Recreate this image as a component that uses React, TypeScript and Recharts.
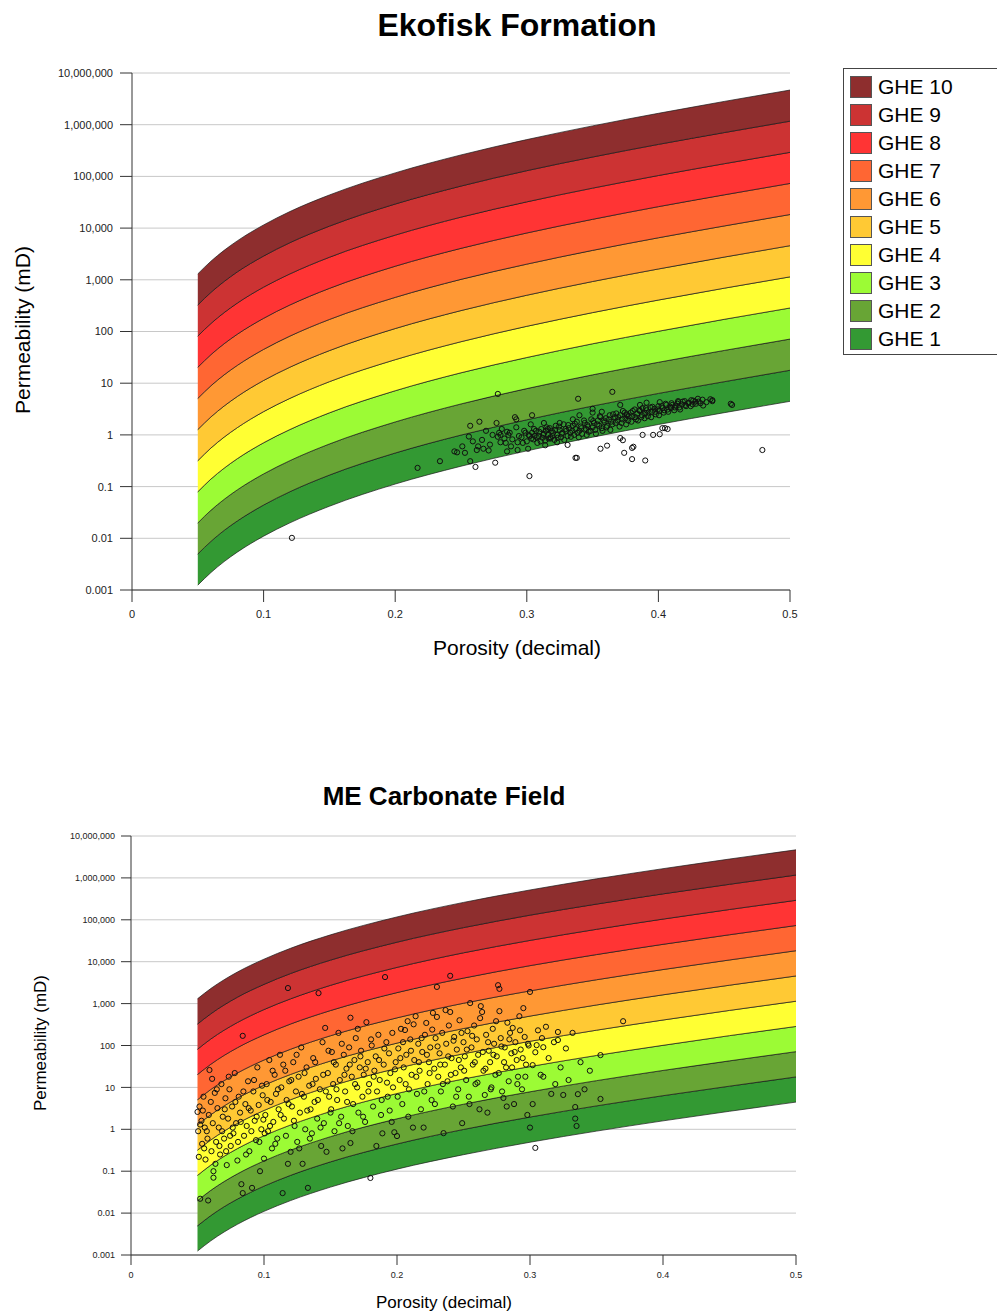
import React from "react";
import { ComposedChart, Area, Scatter, XAxis, YAxis, CartesianGrid } from "recharts";

const porosity = [0.05, 0.06, 0.07, 0.08, 0.1, 0.12, 0.15, 0.2, 0.25, 0.3, 0.35, 0.4, 0.45, 0.5];

// permeability (mD) of each band edge, bottom of GHE 1 up to top of GHE 10
const edge0 = [0.00124, 0.00218, 0.00354, 0.0054, 0.011, 0.0199, 0.0417, 0.112, 0.248, 0.491, 0.905, 1.59, 2.69, 4.46];
const edge1 = [0.00496, 0.00872, 0.0142, 0.0216, 0.044, 0.0796, 0.167, 0.446, 0.992, 1.96, 3.62, 6.34, 10.7, 17.8];
const edge2 = [0.0198, 0.0349, 0.0566, 0.0864, 0.176, 0.318, 0.667, 1.78, 3.97, 7.86, 14.5, 25.4, 43.0, 71.4];
const edge3 = [0.0794, 0.14, 0.227, 0.346, 0.704, 1.27, 2.67, 7.14, 15.9, 31.4, 57.9, 101, 172, 285];
const edge4 = [0.317, 0.558, 0.906, 1.38, 2.82, 5.09, 10.7, 28.5, 63.5, 126, 232, 406, 688, 1140];
const edge5 = [1.27, 2.23, 3.62, 5.53, 11.3, 20.4, 42.7, 114, 254, 503, 927, 1620, 2750, 4570];
const edge6 = [5.08, 8.93, 14.5, 22.1, 45.1, 81.5, 171, 457, 1020, 2010, 3710, 6500, 11000, 18300];
const edge7 = [20.3, 35.7, 58.0, 88.5, 180, 326, 683, 1830, 4060, 8050, 14800, 26000, 44000, 73100];
const edge8 = [81.3, 143, 232, 354, 721, 1300, 2730, 7310, 16300, 32200, 59300, 104000, 176000, 292000];
const edge9 = [325, 571, 928, 1420, 2880, 5220, 10900, 29200, 65000, 129000, 237000, 416000, 704000, 1170000];
const edge10 = [1300, 2290, 3710, 5660, 11500, 20900, 43700, 117000, 260000, 515000, 949000, 1660000, 2820000, 4680000];

const edges = [edge0, edge1, edge2, edge3, edge4, edge5, edge6, edge7, edge8, edge9, edge10];

const bandNames = ["GHE 1", "GHE 2", "GHE 3", "GHE 4", "GHE 5", "GHE 6", "GHE 7", "GHE 8", "GHE 9", "GHE 10"];
const bandColors = ["#339933", "#68a535", "#9cfb35", "#ffff33", "#ffc934", "#ff9834", "#ff6633", "#ff3434", "#cc3333", "#8e2e2e"];

const yTicks = [0.001, 0.01, 0.1, 1, 10, 100, 1000, 10000, 100000, 1000000, 10000000];
const xTicks = [0, 0.1, 0.2, 0.3, 0.4, 0.5];

// Ekofisk core plugs [porosity, permeability mD]
const ekofiskPoints: [number, number][] = [
  [0.1215, 0.0102], [0.217, 0.23], [0.234, 0.31], [0.245, 0.48], [0.247, 0.46], [0.256, 0.93],
  [0.257, 1.5], [0.257, 0.31], [0.261, 0.24], [0.262, 0.51], [0.264, 1.8], [0.267, 0.54],
  [0.271, 0.5], [0.276, 0.29], [0.277, 1.7], [0.278, 6.2], [0.278, 0.92], [0.279, 1.1],
  [0.28, 1.0], [0.28, 0.72], [0.283, 0.85], [0.285, 1.15], [0.285, 0.48], [0.286, 1.0],
  [0.288, 0.6], [0.291, 2.2], [0.292, 2.0], [0.293, 0.72], [0.293, 0.51], [0.296, 0.9],
  [0.298, 1.2], [0.301, 0.54], [0.302, 0.16], [0.303, 1.6], [0.304, 2.4], [0.306, 0.96],
  [0.313, 1.7], [0.314, 0.63], [0.316, 1.3], [0.318, 0.85], [0.323, 0.72], [0.325, 1.7],
  [0.331, 0.64], [0.335, 2.0], [0.337, 0.36], [0.338, 0.36], [0.339, 5.0], [0.34, 2.4],
  [0.35, 2.7], [0.35, 3.2], [0.356, 0.54], [0.357, 2.8], [0.361, 0.62], [0.365, 6.8],
  [0.371, 0.87], [0.371, 3.8], [0.373, 0.79], [0.374, 0.45], [0.376, 2.4], [0.38, 0.56],
  [0.38, 0.34], [0.381, 0.59], [0.386, 3.8], [0.388, 1.0], [0.39, 0.32], [0.391, 4.2],
  [0.396, 1.0], [0.401, 1.03], [0.401, 4.3], [0.403, 1.35], [0.405, 1.35], [0.407, 1.3],
  [0.415, 4.5], [0.43, 5.0], [0.434, 3.7], [0.441, 4.5], [0.441, 4.7], [0.455, 4.0],
  [0.456, 3.8], [0.479, 0.51],
  [0.251, 0.6], [0.253, 0.45], [0.259, 0.75], [0.263, 0.6], [0.266, 0.8], [0.269, 1.2],
  [0.272, 0.65], [0.274, 1.0], [0.281, 1.3], [0.284, 0.7], [0.287, 1.1], [0.289, 0.82],
  [0.292, 1.4], [0.294, 0.95], [0.297, 0.7], [0.299, 1.1],
  [0.3, 0.75], [0.302, 0.95], [0.304, 1.1], [0.305, 0.82], [0.307, 1.2], [0.308, 0.7],
  [0.309, 0.95], [0.311, 1.3], [0.312, 0.88], [0.313, 1.05], [0.314, 0.78], [0.315, 1.4],
  [0.316, 1.0], [0.318, 0.9], [0.319, 1.2], [0.32, 1.1], [0.321, 0.8], [0.322, 1.5],
  [0.323, 1.0], [0.325, 1.25], [0.326, 0.9], [0.327, 1.1], [0.328, 1.6], [0.33, 1.2],
  [0.331, 0.95], [0.332, 1.35], [0.333, 1.1], [0.335, 1.5], [0.336, 1.0], [0.337, 1.3],
  [0.338, 1.8], [0.34, 1.2], [0.341, 1.45], [0.342, 1.05], [0.344, 1.7], [0.345, 1.3],
  [0.346, 1.55], [0.347, 1.15], [0.349, 2.0], [0.35, 1.4], [0.351, 1.7], [0.352, 1.25],
  [0.354, 1.9], [0.355, 1.5], [0.356, 2.2], [0.357, 1.35], [0.359, 1.75], [0.36, 2.1],
  [0.361, 1.5], [0.363, 2.4], [0.364, 1.8], [0.365, 1.6], [0.367, 2.2], [0.368, 2.6],
  [0.369, 1.9], [0.371, 2.4], [0.372, 1.7], [0.373, 2.9], [0.375, 2.1], [0.376, 2.5],
  [0.377, 1.9], [0.379, 2.7], [0.38, 2.3], [0.382, 3.1], [0.383, 2.0], [0.384, 2.6],
  [0.386, 2.9], [0.387, 2.2], [0.388, 3.3], [0.39, 2.6], [0.391, 3.0], [0.392, 2.3],
  [0.394, 3.4], [0.395, 2.8], [0.397, 3.2], [0.398, 2.5], [0.4, 3.6], [0.401, 2.9],
  [0.403, 3.3], [0.404, 2.7], [0.406, 3.8], [0.407, 3.1], [0.409, 3.5], [0.41, 4.1],
  [0.412, 3.0], [0.413, 3.7], [0.415, 4.3], [0.416, 3.4], [0.418, 3.9], [0.42, 4.5],
  [0.421, 3.6], [0.423, 4.2], [0.425, 4.7], [0.426, 3.9], [0.428, 4.4], [0.432, 4.1],
  [0.3015, 1.0], [0.3035, 0.85], [0.3055, 1.3], [0.3075, 0.9], [0.3095, 1.15], [0.3105, 0.75],
  [0.3125, 1.0], [0.3145, 1.2], [0.3165, 0.85], [0.3175, 1.35], [0.3195, 0.95], [0.3215, 1.25],
  [0.3235, 0.88], [0.3245, 1.45], [0.3265, 1.05], [0.3285, 0.8], [0.3295, 1.3], [0.3315, 1.55],
  [0.3335, 0.92], [0.3345, 1.2], [0.3365, 1.65], [0.3385, 1.1], [0.3395, 0.9], [0.3415, 1.35],
  [0.3435, 1.9], [0.3455, 1.0], [0.3465, 1.45], [0.3485, 1.2], [0.3505, 1.85], [0.3525, 1.05],
  [0.3535, 1.6], [0.3555, 2.3], [0.3575, 1.2], [0.3585, 1.9], [0.3605, 1.4], [0.3625, 2.0],
  [0.3635, 1.25], [0.3655, 2.5], [0.3675, 1.7], [0.3695, 2.2], [0.3705, 1.45], [0.3725, 2.0],
  [0.3745, 2.7], [0.3755, 1.6], [0.3775, 2.3], [0.3795, 1.8], [0.3805, 2.9], [0.3825, 2.2],
  [0.3845, 1.9], [0.3855, 3.0], [0.3875, 2.4], [0.3895, 2.1], [0.3905, 3.3], [0.3925, 2.7],
  [0.3945, 2.2], [0.3955, 3.5], [0.3975, 2.8], [0.3995, 3.1], [0.4005, 2.4], [0.4025, 3.6],
  [0.4045, 3.0], [0.4055, 4.0], [0.4075, 2.8], [0.4095, 3.3], [0.4105, 3.8], [0.4125, 3.4],
  [0.4145, 4.0], [0.4165, 3.1], [0.4185, 4.4], [0.4205, 3.8], [0.4225, 4.1], [0.4245, 3.6],
  [0.4265, 4.6], [0.4285, 4.0], [0.4305, 4.4], [0.4335, 4.8], [0.4365, 4.3], [0.4395, 4.9],
];

// ME carbonate field core plugs [porosity, permeability mD]
const mePoints: [number, number][] = [
  [0.05, 2.6], [0.052, 1.3], [0.053, 1.6], [0.054, 2.8], [0.051, 0.22], [0.052, 0.022], [0.055, 0.35],
  [0.056, 0.19], [0.057, 0.9], [0.058, 0.02], [0.059, 26], [0.06, 4.5], [0.061, 16], [0.062, 0.1],
  [0.062, 0.07], [0.063, 7.4], [0.064, 0.5], [0.065, 3.2], [0.066, 1.1], [0.067, 0.25], [0.068, 12],
  [0.069, 2.0], [0.07, 0.6], [0.071, 5.5], [0.072, 0.14], [0.073, 1.8], [0.074, 9], [0.075, 0.4],
  [0.076, 3.5], [0.077, 0.8], [0.078, 22], [0.079, 1.4], [0.08, 0.18], [0.081, 6], [0.082, 2.5],
  [0.083, 0.049], [0.084, 0.03], [0.084, 170], [0.085, 0.7], [0.086, 4], [0.087, 1.2], [0.088, 14],
  [0.089, 0.3], [0.09, 2.8], [0.091, 0.04], [0.092, 8], [0.093, 1.6], [0.094, 0.55], [0.095, 30],
  [0.096, 3.8], [0.097, 0.1], [0.098, 1.0], [0.099, 6.5], [0.1, 0.2],
  [0.101, 2.2], [0.102, 12], [0.103, 0.9], [0.104, 45], [0.105, 4.5], [0.106, 0.35], [0.107, 1.5],
  [0.108, 20], [0.109, 7], [0.11, 0.6], [0.111, 3], [0.112, 60], [0.113, 10], [0.114, 0.03],
  [0.115, 1.8], [0.116, 25], [0.117, 5], [0.118, 2350], [0.118, 0.15], [0.119, 14], [0.12, 0.29],
  [0.121, 3.5], [0.122, 40], [0.123, 1.2], [0.124, 8], [0.125, 0.5], [0.126, 18], [0.127, 2.5],
  [0.128, 90], [0.129, 0.15], [0.13, 6], [0.131, 1.0], [0.132, 30], [0.133, 0.04], [0.134, 11],
  [0.135, 3], [0.136, 0.8], [0.137, 50], [0.138, 4.5], [0.139, 16], [0.14, 1.8], [0.141, 1780],
  [0.142, 9], [0.143, 0.4], [0.144, 120], [0.145, 1.4], [0.146, 263], [0.147, 0.29], [0.148, 22],
  [0.149, 6], [0.15, 2.5],
  [0.151, 70], [0.152, 12], [0.153, 0.9], [0.154, 35], [0.155, 5], [0.156, 200], [0.157, 15],
  [0.158, 2], [0.159, 0.35], [0.16, 60], [0.161, 8], [0.162, 28], [0.163, 1.2], [0.164, 90],
  [0.165, 460], [0.165, 0.47], [0.166, 18], [0.167, 4], [0.168, 45], [0.169, 150], [0.17, 10],
  [0.171, 2.5], [0.172, 30], [0.173, 75], [0.174, 6], [0.175, 20], [0.176, 1.5], [0.177, 360],
  [0.178, 40], [0.179, 12], [0.18, 0.069], [0.181, 100], [0.182, 3.5], [0.183, 25], [0.184, 55],
  [0.185, 8], [0.186, 180], [0.187, 15], [0.188, 2.2], [0.189, 0.8], [0.19, 35], [0.191, 4300],
  [0.192, 120], [0.193, 6], [0.194, 65], [0.195, 22], [0.196, 1.5], [0.197, 10], [0.198, 0.85],
  [0.199, 40], [0.2, 0.69],
  [0.201, 85], [0.202, 15], [0.203, 250], [0.204, 4], [0.205, 30], [0.206, 234], [0.207, 60],
  [0.208, 380], [0.209, 9], [0.21, 140], [0.211, 20], [0.212, 1.1], [0.213, 45], [0.214, 500],
  [0.215, 7], [0.216, 110], [0.217, 25], [0.218, 3], [0.219, 70], [0.22, 1.1], [0.221, 180],
  [0.222, 345], [0.223, 12], [0.224, 40], [0.225, 90], [0.226, 5], [0.227, 600], [0.228, 28],
  [0.229, 150], [0.23, 2500], [0.23, 480], [0.231, 18], [0.232, 65], [0.233, 8], [0.234, 200],
  [0.235, 0.81], [0.236, 35], [0.237, 110], [0.238, 14], [0.239, 300], [0.24, 4600], [0.24, 630],
  [0.241, 50], [0.242, 3.5], [0.243, 160], [0.244, 22], [0.245, 80], [0.246, 9], [0.247, 400],
  [0.248, 30], [0.249, 1.4], [0.25, 120],
  [0.251, 55], [0.252, 15], [0.253, 220], [0.254, 6], [0.255, 1030], [0.256, 90], [0.257, 35],
  [0.258, 300], [0.259, 12], [0.26, 140], [0.261, 60], [0.262, 3], [0.263, 870], [0.264, 630],
  [0.265, 25], [0.266, 6.6], [0.267, 180], [0.268, 2.5], [0.269, 75], [0.27, 40], [0.271, 10],
  [0.272, 250], [0.273, 110], [0.274, 20], [0.275, 55], [0.276, 2750], [0.277, 2250], [0.277, 660],
  [0.278, 150], [0.279, 8], [0.28, 5.6], [0.281, 90], [0.282, 30], [0.283, 350], [0.284, 14],
  [0.285, 200], [0.286, 65], [0.287, 263], [0.288, 4], [0.289, 120], [0.29, 45], [0.291, 18],
  [0.292, 500], [0.293, 80], [0.294, 9], [0.295, 780], [0.296, 160], [0.297, 35], [0.298, 2.2],
  [0.299, 100], [0.3, 1900], [0.3, 1.1],
  [0.302, 4.0], [0.302, 34], [0.304, 69], [0.304, 0.36], [0.305, 102], [0.306, 230], [0.308, 20],
  [0.309, 150], [0.31, 91], [0.31, 18], [0.312, 280], [0.314, 50], [0.316, 7], [0.318, 120],
  [0.319, 12], [0.321, 210], [0.321, 135], [0.323, 30], [0.325, 6.6], [0.327, 85], [0.329, 15],
  [0.332, 200], [0.334, 3.4], [0.334, 1.8], [0.335, 1.2], [0.336, 6.9], [0.338, 40], [0.341, 9],
  [0.345, 25], [0.353, 59], [0.353, 5.3], [0.37, 380],
  [0.0505, 0.9], [0.0515, 3.5], [0.0535, 0.45], [0.0545, 6], [0.0555, 1.1], [0.0575, 0.6],
  [0.0585, 2.2], [0.0605, 0.3], [0.0615, 1.4], [0.0635, 0.15], [0.0645, 9], [0.0665, 0.4],
  [0.0685, 0.9], [0.0705, 3], [0.0715, 0.3], [0.0735, 18], [0.0745, 0.7], [0.0765, 1.1],
  [0.0785, 4.5], [0.0805, 0.5], [0.0825, 1.5], [0.0845, 8], [0.0865, 0.25], [0.0885, 3.2],
  [0.0905, 0.9], [0.0925, 15], [0.0945, 2], [0.0965, 0.5], [0.0985, 11], [0.0995, 1.7],
  [0.1005, 0.8], [0.1025, 5], [0.1045, 1.2], [0.1065, 25], [0.1085, 0.45], [0.1105, 9],
  [0.1125, 2.2], [0.1145, 35], [0.1165, 0.7], [0.1185, 4], [0.1205, 15], [0.1225, 1.6],
  [0.1245, 60], [0.1265, 0.35], [0.1285, 7], [0.1305, 22], [0.1325, 2.8], [0.1345, 0.6],
  [0.1365, 12], [0.1385, 40], [0.1405, 5], [0.1425, 1.1], [0.1445, 20], [0.1465, 8], [0.1485, 75],
  [0.1505, 3], [0.1525, 40], [0.1545, 9], [0.1565, 1.4], [0.1585, 110], [0.1605, 20],
  [0.1625, 4.5], [0.1645, 35], [0.1665, 0.9], [0.1685, 12], [0.1705, 250], [0.1725, 55],
  [0.1745, 2], [0.1765, 28], [0.1785, 8], [0.1805, 140], [0.1825, 18], [0.1845, 0.4],
  [0.1865, 45], [0.1885, 5], [0.1905, 85], [0.1925, 13], [0.1945, 2.8], [0.1965, 200], [0.1985, 27],
  [0.2005, 6], [0.2025, 50], [0.2045, 120], [0.2065, 12], [0.2085, 2], [0.2105, 75],
  [0.2125, 320], [0.2145, 18], [0.2165, 40], [0.2185, 150], [0.2205, 8], [0.2225, 60],
  [0.2245, 22], [0.2265, 240], [0.2285, 4], [0.2305, 95], [0.2325, 35], [0.2345, 12],
  [0.2365, 700], [0.2385, 55], [0.2405, 20], [0.2425, 130], [0.2445, 6], [0.2465, 45], [0.2485, 200],
  [0.2505, 25], [0.2525, 80], [0.2545, 4], [0.2565, 170], [0.2585, 40], [0.2605, 13],
  [0.2625, 450], [0.2645, 70], [0.2665, 28], [0.2685, 120], [0.2705, 9], [0.2725, 60],
  [0.2745, 380], [0.2765, 22], [0.2785, 95], [0.2805, 40], [0.2825, 3.5], [0.2845, 140],
  [0.2865, 30], [0.2885, 70], [0.2905, 12], [0.2925, 230], [0.2945, 50], [0.2965, 18], [0.2985, 110],
];

const FONT = '"Liberation Sans", Arial, sans-serif';

// one row per porosity sample, each band stored as [low, high]
const bandRows = porosity.map((x, i) => {
  const row: Record<string, any> = { x };
  bandNames.forEach((_, b) => {
    row[`ghe${b + 1}`] = [edges[b][i], edges[b + 1][i]];
  });
  return row;
});

const fmtY = (v: number) => (v >= 1 ? v.toLocaleString("en-US") : String(v));

const Marker = (props: any) => {
  if (props.cx == null || props.cy == null) return null;
  return <circle cx={props.cx} cy={props.cy} r={2.6} fill="none" stroke="#111" strokeWidth={1} />;
};

interface PermChartProps {
  points: [number, number][];
  width: number;
  height: number;
  margin: { top: number; right: number; bottom: number; left: number };
  fontSize: number;
  tickSize: number;
  yTickMargin: number;
  xTickMargin: number;
}

function PermChart({ points, width, height, margin, fontSize, tickSize, yTickMargin, xTickMargin }: PermChartProps) {
  const scatterData = points.map(([x, k]) => ({ x, k }));
  return (
    <ComposedChart width={width} height={height} data={bandRows} margin={margin}>
      <CartesianGrid vertical={false} stroke="#c8c8c8" />
      <XAxis
        type="number"
        dataKey="x"
        domain={[0, 0.5]}
        ticks={xTicks}
        allowDataOverflow
        height={30}
        stroke="#333"
        tickSize={tickSize}
        tickMargin={xTickMargin}
        tick={{ fontSize, fill: "#222", fontFamily: FONT }}
      />
      <YAxis
        type="number"
        scale="log"
        domain={[0.001, 10000000]}
        ticks={yTicks}
        allowDataOverflow
        width={120}
        stroke="#333"
        tickSize={tickSize}
        tickMargin={yTickMargin}
        tickFormatter={fmtY}
        tick={{ fontSize, fill: "#222", fontFamily: FONT }}
      />
      {bandNames.map((name, b) => (
        <Area
          key={name}
          name={name}
          type="monotone"
          dataKey={`ghe${b + 1}`}
          fill={bandColors[b]}
          fillOpacity={1}
          stroke="#1a1a1a"
          strokeWidth={0.7}
          dot={false}
          activeDot={false}
          isAnimationActive={false}
        />
      ))}
      <Scatter data={scatterData} dataKey="k" shape={Marker} isAnimationActive={false} />
    </ComposedChart>
  );
}

const centered = (cx: number, cy: number, extra: React.CSSProperties = {}): React.CSSProperties => ({
  position: "absolute",
  left: cx,
  top: cy,
  transform: "translate(-50%, -50%)",
  whiteSpace: "nowrap",
  fontFamily: FONT,
  color: "#000",
  lineHeight: 1,
  ...extra,
});

export default function App() {
  const legendItems = bandNames.map((name, i) => ({ name, color: bandColors[i] })).reverse();

  return (
    <div style={{ position: "absolute", left: 0, top: 0, width: 997, height: 1315, overflow: "hidden", background: "#fff" }}>
      {/* top panel */}
      <div style={centered(517, 25, { fontSize: 32, fontWeight: "bold" })}>Ekofisk Formation</div>
      <div style={{ position: "absolute", left: 0, top: 0 }}>
        <PermChart
          points={ekofiskPoints}
          width={800}
          height={630}
          margin={{ top: 73, right: 10, bottom: 10, left: 12 }}
          fontSize={11}
          tickSize={12}
          yTickMargin={7}
          xTickMargin={8}
        />
      </div>
      <div style={centered(517, 647, { fontSize: 21 })}>Porosity (decimal)</div>
      <div style={centered(22, 330, { fontSize: 21, transform: "translate(-50%, -50%) rotate(-90deg)" })}>
        Permeability (mD)
      </div>

      {/* legend */}
      <div
        style={{
          position: "absolute",
          left: 843,
          top: 68,
          width: 160,
          height: 287,
          border: "1px solid #444",
          boxSizing: "border-box",
          background: "#fff",
        }}
      >
        {legendItems.map((item, i) => (
          <div key={item.name} style={{ position: "absolute", left: 6, top: 7 + i * 28, height: 22, display: "flex", alignItems: "center" }}>
            <div style={{ width: 22, height: 22, background: item.color, border: "1px solid #555", boxSizing: "border-box" }} />
            <span style={{ marginLeft: 6, fontSize: 21, fontFamily: FONT, color: "#000" }}>{item.name}</span>
          </div>
        ))}
      </div>

      {/* bottom panel */}
      <div style={centered(444, 796, { fontSize: 26, fontWeight: "bold" })}>ME Carbonate Field</div>
      <div style={{ position: "absolute", left: 0, top: 810 }}>
        <PermChart
          points={mePoints}
          width={806}
          height={485}
          margin={{ top: 26, right: 10, bottom: 10, left: 11 }}
          fontSize={9}
          tickSize={10}
          yTickMargin={6}
          xTickMargin={7}
        />
      </div>
      <div style={centered(444, 1302, { fontSize: 17 })}>Porosity (decimal)</div>
      <div style={centered(40, 1043, { fontSize: 17, transform: "translate(-50%, -50%) rotate(-90deg)" })}>
        Permeability (mD)
      </div>
    </div>
  );
}
